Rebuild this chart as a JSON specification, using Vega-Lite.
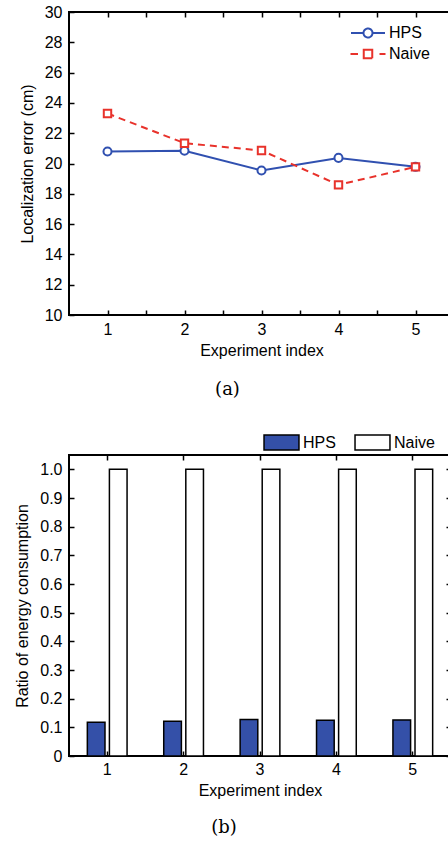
{
  "$schema": "https://vega.github.io/schema/vega-lite/v6.json",
  "padding": {"left": 13, "top": 3, "right": 0, "bottom": 0},
  "background": "white",
  "align": "none",
  "spacing": 31,
  "resolve": {"scale": {"color": "independent", "fill": "independent"}, "legend": {"color": "independent", "fill": "independent"}},
  "config": {
    "view": {"stroke": "black", "strokeWidth": 2},
    "font": "Liberation Sans",
    "axis": {"labelFont": "Liberation Sans", "labelFontSize": 16, "labelColor": "black", "titleFont": "Liberation Sans", "titleFontSize": 16, "titleFontWeight": "normal", "titleColor": "black", "tickColor": "black", "tickWidth": 1.5, "tickSize": -5, "domain": false, "grid": false, "labelOverlap": false, "labelFlush": false},
    "legend": {"labelFont": "Liberation Sans", "labelFontSize": 16, "labelColor": "black", "padding": 0}
  },
  "vconcat": [
    {
      "width": 385,
      "height": 303,
      "title": {"text": "(a)", "orient": "bottom", "font": "DejaVu Serif", "fontSize": 18, "fontWeight": "normal", "color": "black", "frame": "group", "anchor": "middle", "dx": -34, "offset": 23},
      "data": {"values": [
        {"exp": 1, "method": "HPS", "err": 20.79},
        {"exp": 2, "method": "HPS", "err": 20.84},
        {"exp": 3, "method": "HPS", "err": 19.54},
        {"exp": 4, "method": "HPS", "err": 20.37},
        {"exp": 5, "method": "HPS", "err": 19.78},
        {"exp": 1, "method": "Naive", "err": 23.30},
        {"exp": 2, "method": "Naive", "err": 21.34},
        {"exp": 3, "method": "Naive", "err": 20.86},
        {"exp": 4, "method": "Naive", "err": 18.59},
        {"exp": 5, "method": "Naive", "err": 19.78}
      ]},
      "layer": [
        {
          "transform": [{"filter": "datum.method === 'HPS'"}],
          "mark": {"type": "line", "strokeWidth": 2},
          "encoding": {
            "x": {"field": "exp", "type": "quantitative", "scale": {"domain": [0.5, 5.5], "nice": false, "zero": false},
                  "axis": {"orient": "bottom", "title": "Experiment index", "values": [1, 1.5, 2, 2.5, 3, 3.5, 4, 4.5, 5], "labelExpr": "datum.value % 1 === 0 ? format(datum.value, 'd') : ''", "labelPadding": 11, "titlePadding": 5}},
            "y": {"field": "err", "type": "quantitative", "scale": {"domain": [10, 30], "nice": false, "zero": false},
                  "axis": {"orient": "left", "title": "Localization error (cm)", "values": [10, 12, 14, 16, 18, 20, 22, 24, 26, 28, 30], "format": "d", "labelPadding": 12, "titlePadding": 9}},
            "color": {"field": "method", "type": "nominal", "scale": {"domain": ["HPS", "Naive"], "range": ["#3050B0", "#E8322B"]},
                      "legend": {"orient": "none", "direction": "vertical", "legendX": 291, "legendY": 13, "title": null, "symbolSize": 100, "symbolStrokeWidth": 2, "labelOffset": 13, "rowPadding": 3,
                                 "encode": {"symbols": {"update": {
                                   "shape": [{"test": "datum.value === 'HPS'", "value": "M-3.4,0H-0.9M0.9,0H3.4M0.9,0A0.9,0.9,0,1,1,-0.9,0A0.9,0.9,0,1,1,0.9,0"}, {"value": "M-3.5,0H-2M-0.85,-0.85H0.85V0.85H-0.85ZM2.3,0H3.5"}],
                                   "fill": {"value": "transparent"},
                                   "strokeDash": {"value": [1, 0]}
                                 }}}}}
          }
        },
        {
          "transform": [{"filter": "datum.method === 'Naive'"}],
          "mark": {"type": "line", "strokeWidth": 2, "strokeDash": [7, 5]},
          "encoding": {
            "x": {"field": "exp", "type": "quantitative", "axis": null},
            "y": {"field": "err", "type": "quantitative", "axis": null},
            "color": {"field": "method", "type": "nominal", "legend": null}
          }
        },
        {
          "transform": [{"filter": "datum.method === 'HPS'"}],
          "mark": {"type": "point", "shape": "circle", "filled": false, "fill": "white", "strokeWidth": 2, "size": 65, "opacity": 1},
          "encoding": {
            "x": {"field": "exp", "type": "quantitative", "axis": null},
            "y": {"field": "err", "type": "quantitative", "axis": null},
            "color": {"field": "method", "type": "nominal", "legend": null}
          }
        },
        {
          "transform": [{"filter": "datum.method === 'Naive'"}],
          "mark": {"type": "point", "shape": "square", "filled": false, "fill": "white", "strokeWidth": 2, "size": 55, "opacity": 1},
          "encoding": {
            "x": {"field": "exp", "type": "quantitative", "axis": null},
            "y": {"field": "err", "type": "quantitative", "axis": null},
            "color": {"field": "method", "type": "nominal", "legend": null}
          }
        },
        {
          "mark": {"type": "point", "opacity": 0},
          "encoding": {
            "x": {"field": "exp", "type": "quantitative", "axis": {"orient": "top", "title": null, "labels": false, "values": [1, 1.5, 2, 2.5, 3, 3.5, 4, 4.5, 5]}},
            "y": {"field": "err", "type": "quantitative", "axis": {"orient": "right", "title": null, "labels": false, "values": [10, 12, 14, 16, 18, 20, 22, 24, 26, 28, 30]}}
          }
        }
      ],
      "resolve": {"axis": {"x": "independent", "y": "independent"}}
    },
    {
      "width": 382,
      "height": 301,
      "title": {"text": "(b)", "orient": "bottom", "font": "DejaVu Serif", "fontSize": 18, "fontWeight": "normal", "color": "black", "frame": "group", "anchor": "middle", "dx": -36, "offset": 21},
      "data": {"values": [
        {"exp": 1, "method": "HPS", "ratio": 0.118},
        {"exp": 2, "method": "HPS", "ratio": 0.121},
        {"exp": 3, "method": "HPS", "ratio": 0.127},
        {"exp": 4, "method": "HPS", "ratio": 0.125},
        {"exp": 5, "method": "HPS", "ratio": 0.126},
        {"exp": 1, "method": "Naive", "ratio": 1.0},
        {"exp": 2, "method": "Naive", "ratio": 1.0},
        {"exp": 3, "method": "Naive", "ratio": 1.0},
        {"exp": 4, "method": "Naive", "ratio": 1.0},
        {"exp": 5, "method": "Naive", "ratio": 1.0}
      ]},
      "layer": [
        {
          "mark": {"type": "bar", "stroke": "black", "strokeWidth": 1.5},
          "encoding": {
            "x": {"field": "exp", "type": "ordinal", "scale": {"type": "band", "paddingInner": 0.48, "paddingOuter": 0.24},
                  "axis": {"orient": "bottom", "title": "Experiment index", "labelAngle": 0, "labelPadding": 10, "titlePadding": 5, "bandPosition": 0.5}},
            "xOffset": {"field": "method", "type": "nominal", "sort": ["HPS", "Naive"], "scale": {"paddingInner": 0.2, "paddingOuter": 0}},
            "y": {"field": "ratio", "type": "quantitative", "scale": {"domain": [0, 1.05], "nice": false},
                  "axis": {"values": [0, 0.1, 0.2, 0.3, 0.4, 0.5, 0.6, 0.7, 0.8, 0.9, 1.0], "labelExpr": "datum.value == 0 ? '0' : format(datum.value, '.1f')", "title": "Ratio of energy consumption", "labelPadding": 12, "titlePadding": 9}},
            "fill": {"field": "method", "type": "nominal", "scale": {"domain": ["HPS", "Naive"], "range": ["#3450A8", "#ffffff"]},
                     "legend": {"orient": "none", "legendX": 204, "legendY": -21, "direction": "horizontal", "columns": 2, "title": null, "symbolType": "M-2.33,-1H2.33V1H-2.33Z", "symbolSize": 225, "symbolStrokeColor": "black", "symbolStrokeWidth": 1.5, "labelOffset": 13, "columnPadding": 16}}
          }
        },
        {
          "mark": {"type": "bar", "opacity": 0},
          "encoding": {
            "x": {"field": "exp", "type": "ordinal", "axis": {"orient": "top", "title": null, "labels": false, "bandPosition": 0.5}},
            "y": {"field": "ratio", "type": "quantitative", "axis": {"orient": "right", "title": null, "labels": false, "values": [0, 0.1, 0.2, 0.3, 0.4, 0.5, 0.6, 0.7, 0.8, 0.9, 1.0]}}
          }
        }
      ],
      "resolve": {"axis": {"x": "independent", "y": "independent"}}
    }
  ]
}
